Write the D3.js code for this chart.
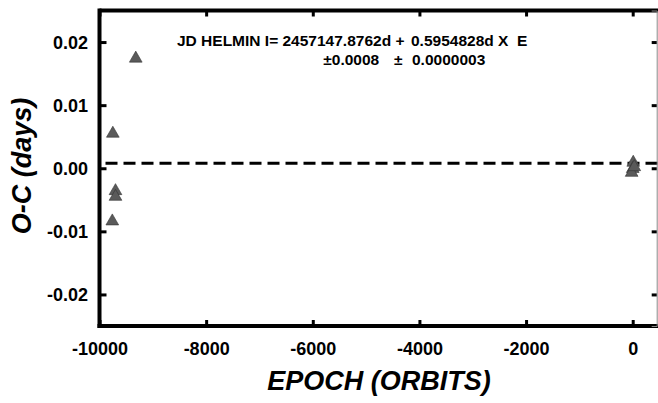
<!DOCTYPE html>
<html>
<head>
<meta charset="utf-8">
<script src="https://cdn.jsdelivr.net/npm/d3@7"></script>
<style>
  body { margin: 0; background: #fff; }
  svg { display: block; font-family: "Liberation Sans", Arial, sans-serif; font-weight: bold; }
</style>
</head>
<body>
<div class="chart"></div>
<script>
// O-C residuals, epoch in orbits
var epochs = [-9320, -9750, -9700, -9700, -9760, 10, 0, -20, 30];
var residuals = [0.0174, 0.0055, -0.0036, -0.0045, -0.0084, 0.0009, -0.0001, -0.0007, 0.0002];
var fit_level = 0.0008;
var x_ticks = [-10000, -8000, -6000, -4000, -2000, 0];
var y_ticks = [0.02, 0.01, 0.00, -0.01, -0.02];
var y_tick_labels = ["0.02", "0.01", "0.00", "-0.01", "-0.02"];

var w = 658, h = 403,
    plot_l = 99.5, plot_r = 656.7, plot_t = 10.5, plot_b = 326,
    axis_w = 4;

var svg = d3.select('.chart')
  .append('svg')
  .attr('width', w)
  .attr('height', h);

var x = d3.scaleLinear().domain([-10000, 450]).range([plot_l, plot_r]);
var y = d3.scaleLinear().domain([-0.025, 0.025]).range([plot_b, plot_t]);

// dashed fit line
svg.append('line')
  .attr('x1', plot_l + 6).attr('x2', w)
  .attr('y1', y(fit_level)).attr('y2', y(fit_level))
  .attr('stroke', '#000')
  .attr('stroke-width', 3)
  .attr('stroke-dasharray', '12,6');

// points
var tri = d3.symbol().type(d3.symbolTriangle).size(70);
svg.selectAll('.pt')
  .data(epochs)
  .enter().append('path')
  .attr('class', 'pt')
  .attr('d', tri)
  .attr('transform', function(d, i) { return 'translate(' + x(d) + ',' + y(residuals[i]) + ')'; })
  .attr('fill', '#5a5a5a')
  .attr('stroke', '#333')
  .attr('stroke-width', 0.6);

// axes
var xb = d3.axisBottom(x).tickValues(x_ticks).tickSize(-6).tickFormat(function(d) { return d === 0 ? '0' : '-' + Math.abs(d); });
var xt = d3.axisTop(x).tickValues(x_ticks).tickSize(-6).tickFormat('');
var yl = d3.axisLeft(y).tickValues(y_ticks).tickSize(-7).tickFormat(function(d, i) { return y_tick_labels[i]; });
var yr = d3.axisRight(y).tickValues(y_ticks).tickSize(-5).tickFormat('');

var gb = svg.append('g').attr('transform', 'translate(0,' + plot_b + ')').call(xb);
var gt = svg.append('g').attr('transform', 'translate(0,' + plot_t + ')').call(xt);
var gl = svg.append('g').attr('transform', 'translate(' + plot_l + ',0)').call(yl);
var gr = svg.append('g').attr('transform', 'translate(' + plot_r + ',0)').call(yr);

[gb, gt, gl].forEach(function(g) {
  g.select('.domain').attr('stroke', '#000').attr('stroke-width', axis_w);
  g.selectAll('.tick line').attr('stroke', '#000').attr('stroke-width', 3);
});
gt.select('.domain').attr('d', 'M' + plot_l + ',0H' + w);
gb.select('.domain').attr('d', 'M' + (plot_l - 2) + ',0H' + w);
gl.select('.domain').attr('d', 'M0,' + (plot_t - 2) + 'V' + (plot_b + 2));
gr.select('.domain').attr('stroke', '#888').attr('stroke-width', 1);
gr.selectAll('.tick line').attr('stroke', '#000').attr('stroke-width', 3);

gb.selectAll('.tick text')
  .attr('y', 29).attr('dy', 0)
  .style('font-size', '18px').style('font-weight', 'bold')
  .style('font-family', '"Liberation Sans", Arial, sans-serif')
  .attr('fill', '#000');
gl.selectAll('.tick text')
  .attr('x', -11.5).attr('dy', '0.35em')
  .style('font-size', '18px').style('font-weight', 'bold')
  .style('font-family', '"Liberation Sans", Arial, sans-serif')
  .attr('fill', '#000');

// axis titles
svg.append('text')
  .attr('x', 379).attr('y', 390)
  .attr('text-anchor', 'middle')
  .style('font-size', '27px').style('font-style', 'italic')
  .text('EPOCH (ORBITS)');

svg.append('text')
  .attr('transform', 'translate(31,166) rotate(-90)')
  .attr('text-anchor', 'middle')
  .style('font-size', '27px').style('font-style', 'italic')
  .text('O-C (days)');

// ephemeris note
var note = svg.append('g').style('font-size', '15.5px');
note.append('text').attr('x', 177).attr('y', 46)
  .text('JD HELMIN I= 2457147.8762d +');
note.append('text').attr('x', 411).attr('y', 46)
  .text('0.5954828d X  E').style('white-space', 'pre');
note.append('text').attr('x', 323.3).attr('y', 65)
  .text('±0.0008');
note.append('text').attr('x', 394).attr('y', 65)
  .text('±');
note.append('text').attr('x', 412).attr('y', 65)
  .text('0.0000003');
</script>
</body>
</html>
